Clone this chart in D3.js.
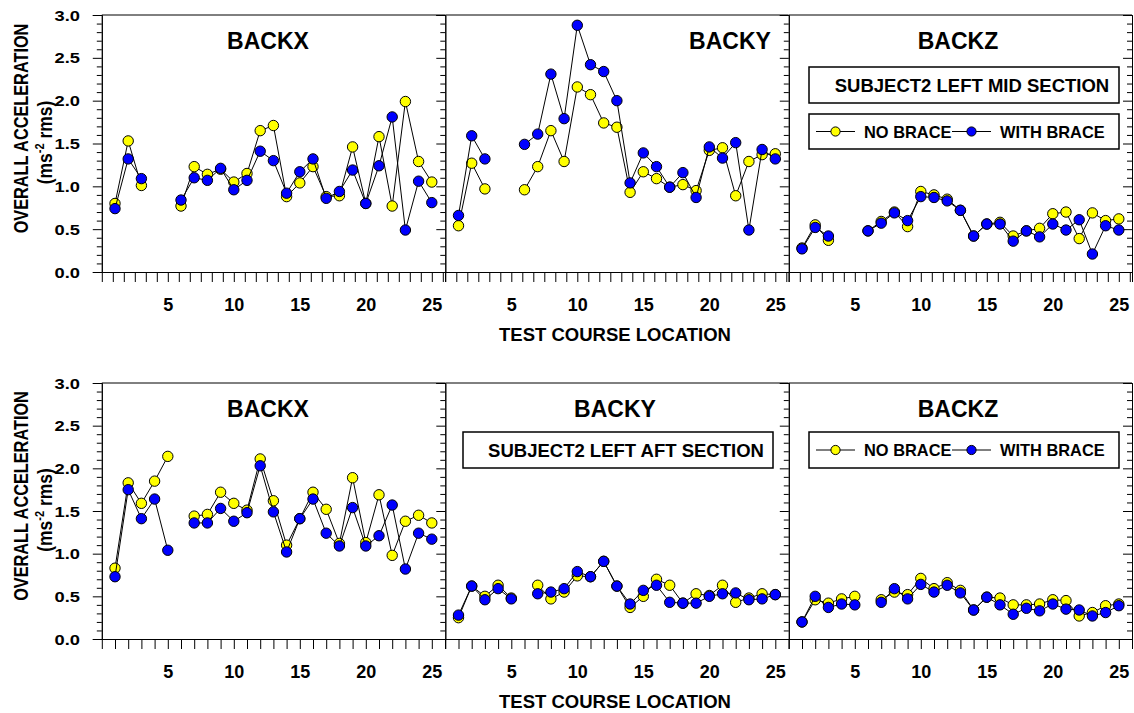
<!DOCTYPE html>
<html><head><meta charset="utf-8">
<script src="https://cdn.jsdelivr.net/npm/d3@7"></script>
<style>
html,body{margin:0;padding:0;background:#fff;}
text{font-family:"Liberation Sans",Arial,Helvetica,sans-serif;font-weight:bold;fill:#000;}
</style></head>
<body><svg id="c" width="1134" height="713"></svg>
<script>
// ---- data ----
const locations = [1,2,3,4,5,6,7,8,9,10,11,12,13,14,15,16,17,18,19,20,21,22,23,24,25];
const xTickLabels = [5,10,15,20,25];
const yTickLabels = [0.0,0.5,1.0,1.5,2.0,2.5,3.0];
const panelTitles = ["BACKX","BACKY","BACKZ"];
const seriesNames = ["NO BRACE","WITH BRACE"];

const midX_no   = [0.80,1.53,1.01,null,null,0.77,1.23,1.14,1.20,1.05,1.15,1.65,1.71,0.88,1.04,1.23,0.88,0.89,1.46,0.80,1.58,0.77,1.99,1.29,1.05];
const midX_with = [0.74,1.32,1.09,null,null,0.84,1.10,1.07,1.21,0.96,1.07,1.41,1.30,0.92,1.17,1.32,0.86,0.94,1.19,0.80,1.24,1.81,0.49,1.06,0.81];
const midY_no   = [0.54,1.27,0.97,null,null,0.96,1.23,1.65,1.29,2.16,2.07,1.74,1.69,0.93,1.17,1.09,0.99,1.02,0.95,1.42,1.45,0.89,1.29,1.37,1.38];
const midY_with = [0.66,1.59,1.32,null,null,1.49,1.61,2.31,1.79,2.88,2.42,2.34,2.00,1.04,1.39,1.23,0.99,1.16,0.87,1.46,1.33,1.51,0.49,1.43,1.32];
const midZ_no   = [0.28,0.55,0.37,null,null,0.48,0.59,0.70,0.53,0.94,0.90,0.85,0.72,0.42,0.56,0.58,0.42,0.48,0.51,0.68,0.70,0.39,0.69,0.60,0.62];
const midZ_with = [0.27,0.52,0.42,null,null,0.48,0.57,0.69,0.60,0.88,0.87,0.83,0.72,0.42,0.56,0.56,0.36,0.48,0.41,0.56,0.49,0.61,0.21,0.54,0.49];

const aftX_no   = [0.83,1.83,1.59,1.85,2.14,null,1.44,1.46,1.72,1.59,1.51,2.11,1.62,1.10,1.41,1.72,1.52,1.12,1.89,1.13,1.69,0.98,1.38,1.45,1.36];
const aftX_with = [0.73,1.75,1.41,1.64,1.04,null,1.36,1.36,1.53,1.38,1.48,2.03,1.49,1.02,1.41,1.64,1.24,1.09,1.54,1.09,1.21,1.57,0.82,1.24,1.17];
const aftY_no   = [0.25,0.62,0.50,0.63,0.48,null,0.63,0.47,0.55,0.74,0.73,0.91,0.62,0.37,0.50,0.70,0.63,0.42,0.53,0.51,0.63,0.43,0.48,0.53,0.52];
const aftY_with = [0.28,0.62,0.46,0.59,0.47,null,0.53,0.55,0.59,0.79,0.73,0.91,0.62,0.41,0.57,0.63,0.43,0.42,0.42,0.50,0.53,0.54,0.46,0.47,0.52];
const aftZ_no   = [0.20,0.46,0.42,0.47,0.50,null,0.46,0.55,0.52,0.71,0.59,0.66,0.57,0.34,0.49,0.48,0.40,0.40,0.41,0.46,0.45,0.27,0.31,0.39,0.41];
const aftZ_with = [0.20,0.50,0.37,0.41,0.40,null,0.43,0.59,0.47,0.64,0.55,0.63,0.54,0.34,0.49,0.40,0.29,0.36,0.33,0.41,0.35,0.34,0.27,0.31,0.39];

// ---- layout ----
const svg = d3.select("#c");
const colLeft = [101.8, 445.3, 788.8];
const colW = 343.2;
const rows = [
  {top:15, bottom:272, series:[[midX_no,midX_with],[midY_no,midY_with],[midZ_no,midZ_with]],
   xTicks:d3.range(1,32).map(k=>k*5/6), titleY:49, titlePos:[268,730,958], note:"SUBJECT2 LEFT MID SECTION",
   noteBox:{x:809,y:67,w:310,h:36}, legendBox:{x:809,y:114,w:310,h:35}},
  {top:383, bottom:639, series:[[aftX_no,aftX_with],[aftY_no,aftY_with],[aftZ_no,aftZ_with]],
   xTicks:locations, titleY:417, titlePos:[268,615,958], note:"SUBJECT2 LEFT AFT SECTION",
   noteBox:{x:463,y:432,w:310,h:36}, legendBox:{x:809,y:432,w:310,h:36}}
];
const colors = ["#ffff00","#0000ff"];
const fmt1 = d3.format(".1f");

rows.forEach((row, ri) => {
  const y = d3.scaleLinear().domain([0,3]).range([row.bottom,row.top]);
  const minors = d3.range(0,31).map(i=>i/10).filter(v=>Math.round(v*10)%5!==0);
  for (let c=0;c<3;c++){
    const x = d3.scaleLinear().domain([0,26]).range([colLeft[c], colLeft[c]+colW]);
    const g = svg.append("g");
    g.append("line").attr("x1",colLeft[c]).attr("x2",colLeft[c]+colW).attr("y1",row.top).attr("y2",row.top)
      .attr("stroke","#000").attr("stroke-width",1);
    g.append("g").attr("transform",`translate(${colLeft[c]},0)`)
      .call(d3.axisLeft(y).tickValues(yTickLabels).tickSize(9).tickFormat(""));
    g.append("g").attr("transform",`translate(${colLeft[c]},0)`)
      .call(d3.axisLeft(y).tickValues(minors).tickSize(5).tickFormat(""));
    if (c===0){
      g.selectAll(null).data(yTickLabels).enter().append("text")
        .attr("transform",d=>`translate(80,${y(d)+5.5}) scale(1.18,1)`).attr("text-anchor","end")
        .style("font-size","15.5px").text(d=>fmt1(d));
    }
    if (c===2){
      g.append("g").attr("transform",`translate(${colLeft[c]+colW},0)`)
        .call(d3.axisLeft(y).tickValues(yTickLabels).tickSize(9).tickFormat(""));
      g.append("g").attr("transform",`translate(${colLeft[c]+colW},0)`)
        .call(d3.axisLeft(y).tickValues(minors).tickSize(5).tickFormat(""));
    }
    g.append("g").attr("transform",`translate(0,${row.bottom})`)
      .call(d3.axisBottom(x).tickValues(row.xTicks).tickSize(10).tickFormat(""));
    const bl = g.append("g").attr("transform",`translate(0,${row.bottom})`)
      .call(d3.axisBottom(x).tickValues(xTickLabels).tickSize(0).tickPadding(26).tickFormat(d3.format("d")));
    bl.select(".domain").remove();
    bl.selectAll("text").style("font-size","18px").style("font-family","'Liberation Sans',Arial,sans-serif").style("font-weight","bold");
    g.selectAll(".domain").attr("stroke","#000");
    g.selectAll(".tick line").attr("stroke","#000");

    g.append("text").attr("x",row.titlePos[c]).attr("y",row.titleY).attr("text-anchor","middle")
      .style("font-size","23px").text(panelTitles[c]);

    const line = d3.line().defined(d=>d[1]!==null).x(d=>x(d[0])).y(d=>y(d[1]));
    row.series[c].forEach((vals, si) => {
      const pts = locations.map((l,i)=>[l, vals[i]]);
      g.append("path").attr("d", line(pts)).attr("fill","none").attr("stroke","#000").attr("stroke-width",1);
      g.selectAll(null).data(pts.filter(d=>d[1]!==null)).enter().append("circle")
        .attr("cx",d=>x(d[0])).attr("cy",d=>y(d[1])).attr("r",5.2)
        .attr("fill",colors[si]).attr("stroke","#000").attr("stroke-width",1);
    });
  }
  const nb = row.noteBox;
  svg.append("rect").attr("x",nb.x).attr("y",nb.y).attr("width",nb.w).attr("height",nb.h)
    .attr("fill","#fff").attr("stroke","#000").attr("stroke-width",1.5);
  svg.append("text").attr("x",nb.x+nb.w/2+8).attr("y",nb.y+nb.h/2+6.5).attr("text-anchor","middle")
    .style("font-size","18.5px").text(row.note);
  const lb = row.legendBox;
  svg.append("rect").attr("x",lb.x).attr("y",lb.y).attr("width",lb.w).attr("height",lb.h)
    .attr("fill","#fff").attr("stroke","#000").attr("stroke-width",1.5);
  const cy = lb.y+lb.h/2;
  const items = [{x1:lb.x+7,tx:lb.x+55},{x1:lb.x+143,tx:lb.x+191}];
  items.forEach((it,si)=>{
    svg.append("line").attr("x1",it.x1).attr("x2",it.x1+39).attr("y1",cy).attr("y2",cy).attr("stroke","#000").attr("stroke-width",1);
    svg.append("circle").attr("cx",it.x1+19.5).attr("cy",cy).attr("r",4.6).attr("fill",colors[si]).attr("stroke","#000");
    svg.append("text").attr("x",it.tx).attr("y",cy+6).style("font-size","16.4px").text(seriesNames[si]);
  });

  const mid = (row.top+row.bottom)/2;
  svg.append("text").attr("transform",`translate(27.5,${mid-15}) rotate(-90) scale(1,1.2)`).attr("text-anchor","middle")
    .style("font-size","16.3px").text("OVERALL ACCELERATION");
  const t2 = svg.append("text").attr("transform",`translate(52,${mid-1}) rotate(-90) scale(1,1.15)`).attr("text-anchor","middle")
    .style("font-size","17.5px");
  t2.append("tspan").text("(ms");
  t2.append("tspan").attr("dy",-7).style("font-size","11px").text("-2");
  t2.append("tspan").attr("dy",7).text(" rms)");
  svg.append("text").attr("x",615).attr("y",row.bottom+69).attr("text-anchor","middle")
    .style("font-size","18.5px").text("TEST COURSE LOCATION");
});
</script></body></html>
